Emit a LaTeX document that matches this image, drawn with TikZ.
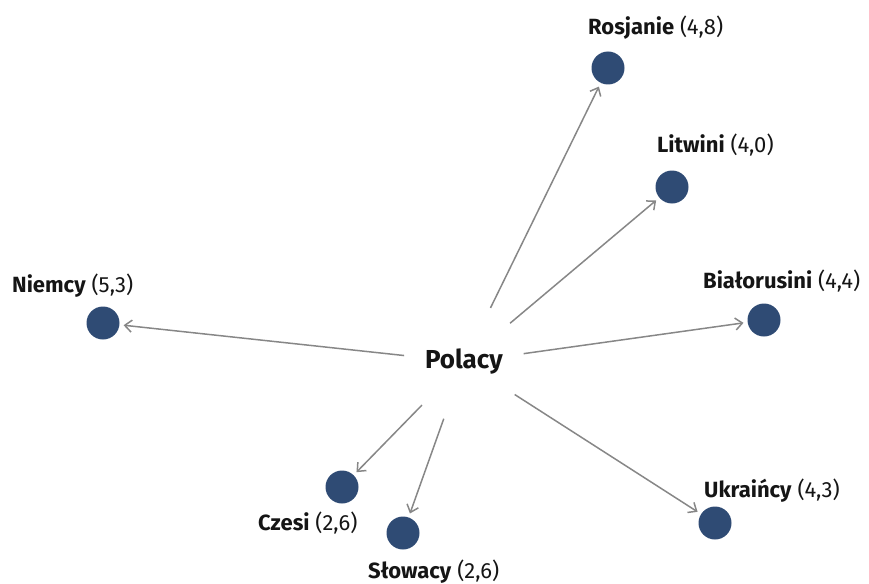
\documentclass[tikz,border=0pt]{standalone}
\usepackage{fontspec}
\setmainfont{Fira Sans}
\usetikzlibrary{arrows.meta}
\definecolor{dotblue}{HTML}{2F4B74}
\definecolor{arrowgray}{HTML}{878787}
\definecolor{txt}{HTML}{151515}
\tikzset{
  dotnode/.style={circle,fill=dotblue,draw=none,minimum size=33pt,inner sep=0pt},
  hub/.style={circle,draw=none,minimum size=120pt,inner sep=0pt,font=\fontsize{26}{30}\selectfont\bfseries,text=txt},
  lbl/.style={anchor=base west,inner sep=0pt,font=\fontsize{22}{26}\selectfont,text=txt},
  link/.style={draw=arrowgray,line width=1.5pt,-{Straight Barb[length=7pt,width=12pt,line width=1.5pt]},shorten >=4pt}
}
\begin{document}
\begin{tikzpicture}[x=1pt,y=-1pt]
\useasboundingbox (0,0) rectangle (869,583);
\node[hub] (pol) at (464,362) {Polacy};
\node[dotnode] (ros) at (608,68) {};
\node[dotnode] (lit) at (672,187) {};
\node[dotnode] (bia) at (764,320) {};
\node[dotnode] (nie) at (103,323) {};
\node[dotnode] (ukr) at (715,523) {};
\node[dotnode] (cze) at (342,487) {};
\node[dotnode] (slo) at (403,533) {};
\node[lbl] (rosl) at (588,35) {\textbf{Rosjanie} (4,8)};
\node[lbl] (litl) at (657,152) {\textbf{Litwini} (4,0)};
\node[lbl] (bial) at (703,288) {\textbf{Białorusini} (4,4)};
\node[lbl] (niel) at (12,292) {\textbf{Niemcy} (5,3)};
\node[lbl] (ukrl) at (704,497) {\textbf{Ukraińcy} (4,3)};
\node[lbl] (czel) at (258,530) {\textbf{Czesi} (2,6)};
\node[lbl] (slol) at (368,578) {\textbf{Słowacy} (2,6)};
\foreach \t in {ros,lit,bia,nie,ukr,cze,slo}
  \draw[link] (pol) -- (\t);
\end{tikzpicture}
\end{document}
